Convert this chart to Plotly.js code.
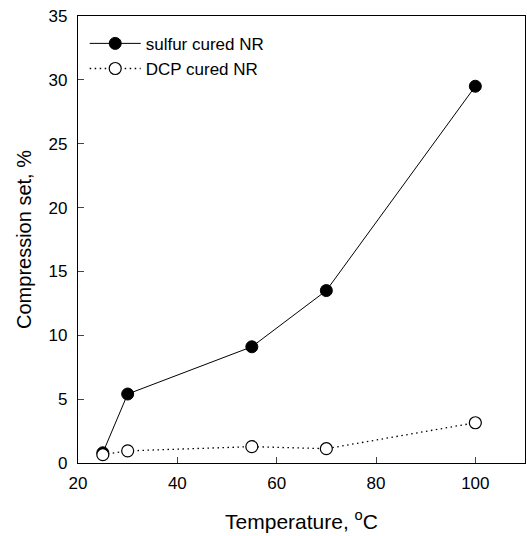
<!DOCTYPE html>
<html><head><meta charset="utf-8">
<script src="https://cdn.plot.ly/plotly-3.0.1.min.js"></script>
<style>html,body{margin:0;padding:0;background:#fff}</style>
</head><body><div id="chart" style="width:527px;height:536px"></div>
<script>
const temperature = [25, 30, 55, 70, 100];
const sulfurCured = [0.8, 5.4, 9.1, 13.5, 29.5];
const dcpCured = [0.65, 0.95, 1.28, 1.12, 3.15];
const seriesNames = ["sulfur cured NR", "DCP cured NR"];

const font = {family: "Liberation Sans, Arial, sans-serif", color: "#000"};
const traces = [
  {x: temperature, y: sulfurCured, name: seriesNames[0], mode: "lines+markers",
   line: {color: "#000", width: 1, dash: "solid"},
   marker: {symbol: "circle", size: 12, color: "#000", line: {color: "#000", width: 1}}},
  {x: temperature, y: dcpCured, name: seriesNames[1], mode: "lines+markers",
   line: {color: "#000", width: 1.3, dash: "1.5px,3.5px"},
   marker: {symbol: "circle", size: 12, color: "#fff", line: {color: "#000", width: 1.2}}}
];
const layout = {
  width: 527, height: 536,
  margin: {l: 78, r: 2, t: 16, b: 73},
  paper_bgcolor: "#fff", plot_bgcolor: "#fff",
  font: Object.assign({size: 17}, font),
  showlegend: true,
  legend: {x: 0.015, y: 0.978, xanchor: "left", yanchor: "top", bgcolor: "rgba(0,0,0,0)",
           font: Object.assign({size: 17}, font), itemwidth: 51, tracegroupgap: 0},
  xaxis: {range: [20, 110], tickvals: [20, 40, 60, 80, 100], ticks: "inside", ticklen: 6,
          showgrid: false, zeroline: false, showline: true, linecolor: "#000", linewidth: 1.2,
          mirror: true, tickfont: Object.assign({size: 17}, font), ticklabelstandoff: 4,
          title: {text: "Temperature, <sup>o</sup>C", font: Object.assign({size: 21}, font), standoff: 22}},
  yaxis: {range: [0, 35], tickvals: [0, 5, 10, 15, 20, 25, 30, 35], ticks: "inside", ticklen: 6,
          showgrid: false, zeroline: false, showline: true, linecolor: "#000", linewidth: 1.2,
          mirror: true, tickfont: Object.assign({size: 17}, font), ticklabelstandoff: 6,
          title: {text: "Compression set, %", font: Object.assign({size: 20}, font), standoff: 11}}
};
Plotly.newPlot("chart", traces, layout, {displayModeBar: false, staticPlot: true});
</script></body></html>
